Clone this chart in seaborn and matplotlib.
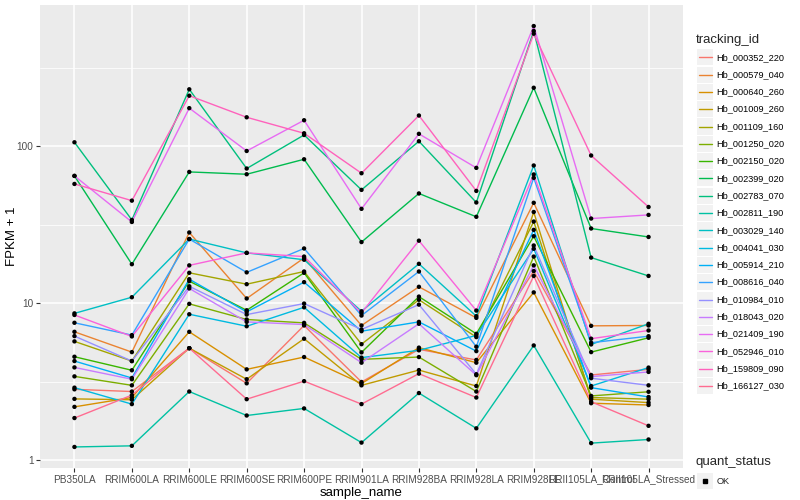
import numpy as np
import pandas as pd
import matplotlib
matplotlib.use("Agg")
import matplotlib.pyplot as plt
import seaborn as sns
from matplotlib.lines import Line2D
from matplotlib.patches import Rectangle
from matplotlib.ticker import FixedLocator, FixedFormatter, NullFormatter

samples = ["PB350LA", "RRIM600LA", "RRIM600LE", "RRIM600SE", "RRIM600PE", "RRIM901LA",
           "RRIM928BA", "RRIM928LA", "RRIM928LE", "RRII105LA_Control", "RRII105LA_Stressed"]

tracking_ids = ["Hb_000352_220", "Hb_000579_040", "Hb_000640_260", "Hb_001009_260",
                "Hb_001109_160", "Hb_001250_020", "Hb_002150_020", "Hb_002399_020",
                "Hb_002783_070", "Hb_002811_190", "Hb_003029_140", "Hb_004041_030",
                "Hb_005914_210", "Hb_008616_040", "Hb_010984_010", "Hb_018043_020",
                "Hb_021409_190", "Hb_052946_010", "Hb_159809_090", "Hb_166127_030"]

hb_000352_220 = [2.82, 2.73, 5.16, 3.08, 7.20, 3.14, 5.07, 4.34, 16.0, 3.48, 3.78]
hb_000579_040 = [6.56, 4.87, 28.2, 10.7, 19.4, 7.20, 12.7, 8.05, 43.6, 7.16, 7.20]
hb_000640_260 = [2.18, 2.50, 6.56, 3.78, 4.53, 3.07, 5.20, 4.17, 11.7, 2.30, 2.24]
hb_001009_260 = [2.45, 2.42, 5.16, 3.27, 5.93, 2.99, 3.74, 2.96, 38.1, 2.44, 2.32]
hb_001109_160 = [5.70, 4.27, 15.6, 13.2, 15.9, 5.47, 10.5, 6.07, 33.1, 2.50, 2.44]
hb_001250_020 = [3.41, 2.99, 9.89, 7.86, 7.48, 4.38, 4.53, 2.73, 19.8, 2.56, 2.72]
hb_002150_020 = [4.55, 3.73, 13.8, 9.00, 15.6, 4.85, 11.0, 6.37, 26.7, 4.87, 6.01]
hb_002399_020 = [64.7, 17.7, 68.6, 66.3, 82.6, 24.5, 50.0, 35.5, 236.0, 29.9, 26.4]
hb_002783_070 = [106.0, 33.9, 230.7, 72.1, 118.0, 52.7, 107.6, 43.8, 543.0, 19.5, 14.9]
hb_002811_190 = [1.21, 1.23, 2.73, 1.92, 2.13, 1.29, 2.67, 1.59, 5.37, 1.28, 1.35]
hb_003029_140 = [8.60, 10.9, 25.6, 20.9, 18.9, 8.87, 17.8, 8.25, 75.4, 5.45, 7.38]
hb_004041_030 = [2.89, 2.27, 8.49, 7.12, 9.40, 4.49, 5.00, 6.22, 22.2, 2.96, 3.88]
hb_005914_210 = [4.27, 3.33, 14.2, 8.79, 13.6, 6.62, 7.59, 4.94, 29.3, 2.89, 2.52]
hb_008616_040 = [7.49, 6.25, 25.6, 15.7, 22.3, 8.33, 15.9, 5.27, 62.9, 5.59, 6.15]
hb_010984_010 = [6.16, 4.27, 12.8, 8.45, 9.93, 6.79, 9.78, 3.52, 23.3, 3.32, 2.99]
hb_018043_020 = [3.89, 3.27, 12.4, 7.59, 7.30, 4.17, 7.38, 3.47, 17.4, 3.40, 3.64]
hb_021409_190 = [64.7, 32.9, 175.0, 93.3, 146.5, 39.9, 120.0, 72.8, 584.0, 34.6, 36.5]
hb_052946_010 = [8.40, 6.13, 17.4, 20.9, 19.8, 8.66, 25.0, 8.96, 66.1, 5.93, 6.69]
hb_159809_090 = [57.5, 45.0, 210.0, 153.0, 121.0, 67.3, 157.0, 51.9, 522.0, 87.3, 41.0]
hb_166127_030 = [1.85, 2.59, 5.16, 2.44, 3.18, 2.27, 3.55, 2.50, 14.9, 2.35, 1.65]

series = [hb_000352_220, hb_000579_040, hb_000640_260, hb_001009_260, hb_001109_160,
          hb_001250_020, hb_002150_020, hb_002399_020, hb_002783_070, hb_002811_190,
          hb_003029_140, hb_004041_030, hb_005914_210, hb_008616_040, hb_010984_010,
          hb_018043_020, hb_021409_190, hb_052946_010, hb_159809_090, hb_166127_030]

quant_status = "OK"

# ggplot2 default hue palette for 20 levels
palette = ["#F8766D", "#EA8331", "#D89000", "#C09B00", "#A3A500", "#7CAE00", "#39B600",
           "#00BB4E", "#00BF7D", "#00C1A3", "#00BFC4", "#00BAE0", "#00B0F6", "#35A2FF",
           "#9590FF", "#C77CFF", "#E76BF3", "#FA62DB", "#FF62BC", "#FF6C91"]

rows = []
for tid, vals in zip(tracking_ids, series):
    for i, (s, v) in enumerate(zip(samples, vals)):
        rows.append({"tracking_id": tid, "sample_name": s, "pos": i, "value": v,
                     "quant_status": quant_status})
df = pd.DataFrame(rows)

sns.set_theme(style="darkgrid", rc={
    "axes.facecolor": "#EBEBEB", "grid.color": "white", "figure.facecolor": "white"})
plt.rcParams["font.family"] = ["Liberation Sans", "DejaVu Sans"]

W, H = 800, 500
fig = plt.figure(figsize=(8, 5), dpi=100)
ax = fig.add_axes([40 / W, 1 - 468 / H, (683 - 40) / W, (468 - 5) / H])

sns.lineplot(data=df, x="pos", y="value", hue="tracking_id", hue_order=tracking_ids,
             palette=palette, legend=False, linewidth=1.0, ax=ax, estimator=None, sort=True)
sns.scatterplot(data=df, x="pos", y="value", color="black", s=10, marker="o",
                edgecolor="none", legend=False, ax=ax, zorder=5)

ax.set_yscale("log")
lv = np.log10(df["value"].to_numpy())
lo, hi = lv.min(), lv.max()
pad = 0.05 * (hi - lo)
ax.set_ylim(10 ** (lo - pad), 10 ** (hi + pad))
ax.set_xlim(-0.6, len(samples) - 0.4)

ax.yaxis.set_major_locator(FixedLocator([1, 10, 100]))
ax.yaxis.set_major_formatter(FixedFormatter(["1", "10", "100"]))
ax.yaxis.set_minor_locator(FixedLocator([10 ** 0.5, 10 ** 1.5, 10 ** 2.5]))
ax.yaxis.set_minor_formatter(NullFormatter())
ax.set_xticks(range(len(samples)))
ax.set_xticklabels(samples)

ax.grid(which="major", color="white", linewidth=1.1)
ax.grid(which="minor", axis="y", color="white", linewidth=0.55)
ax.set_axisbelow(True)
for sp in ax.spines.values():
    sp.set_visible(False)
ax.tick_params(which="major", length=2.7, width=0.8, color="#333333",
               labelcolor="#4D4D4D", labelsize=7.2, pad=2)
ax.tick_params(which="minor", length=0)
ax.tick_params(axis="both", which="both", direction="out")
ax.xaxis.set_tick_params(bottom=True)
ax.yaxis.set_tick_params(left=True)

ax.set_xlabel("sample_name", fontsize=9.5, color="black", labelpad=2)
ax.set_ylabel("FPKM + 1", fontsize=9.5, color="black")
ax.yaxis.set_label_coords(18 / W, 1 - 236.5 / H, transform=fig.transFigure)

# legends (ggplot style)
def fx(px):
    return px / W
def fy(py):
    return 1 - py / H

fig.text(fx(696), fy(40), "tracking_id", fontsize=9.5, va="center", ha="left")
for i, (tid, col) in enumerate(zip(tracking_ids, palette)):
    yc = 57.3 + 17.3 * i
    fig.add_artist(Rectangle((fx(697), fy(yc + 8)), 16 / W, 16 / H, transform=fig.transFigure,
                             facecolor="#F2F2F2", edgecolor="none"))
    fig.add_artist(Line2D([fx(698.5), fx(711.5)], [fy(yc), fy(yc)], transform=fig.transFigure,
                          color=col, linewidth=1.0))
    fig.text(fx(716.5), fy(yc), tid, fontsize=6.6, va="center", ha="left", color="black")

fig.text(fx(696), fy(462), "quant_status", fontsize=9.5, va="center", ha="left")
yc = 481
fig.add_artist(Rectangle((fx(697), fy(yc + 8)), 16 / W, 16 / H, transform=fig.transFigure,
                         facecolor="#F2F2F2", edgecolor="none"))
fig.add_artist(Line2D([fx(705)], [fy(yc)], transform=fig.transFigure, marker="s",
                      markersize=2.6, color="black", linestyle="none"))
fig.text(fx(716.5), fy(yc), quant_status, fontsize=6.6, va="center", ha="left")

fig.savefig("out.png", dpi=100)
